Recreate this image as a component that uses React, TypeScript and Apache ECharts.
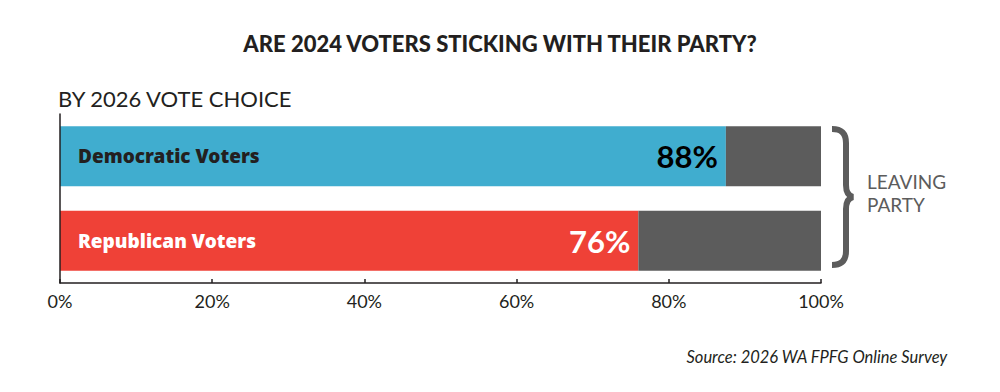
import React, { useEffect, useRef } from "react";
import * as echarts from "echarts";

const categories = ["Democratic Voters", "Republican Voters"];
const stickingValues = [87.5, 76];
const leavingValues = [12.5, 24];
const percentLabels = ["88%", "76%"];
const barColors = ["#40adcf", "#ef4137"];
const labelColors = ["#231f20", "#ffffff"];
const pctColors = ["#000000", "#ffffff"];
const xTicks = [0, 20, 40, 60, 80, 100];

const BRACE =
  "M0 0 C9 0 14 4 14 14 L14 56 C14 63 17 67 21 68 C17 69 14 73 14 80 L14 122 C14 132 9 136 0 136";

echarts.graphic.registerShape("brace", (echarts.graphic as any).extendPath(BRACE, {}));

export default function App() {
  const ref = useRef<HTMLDivElement>(null);
  useEffect(() => {
    if (!ref.current) return;
    const chart = echarts.init(ref.current, undefined, { renderer: "svg" });
    const font = "Lato, 'Noto Sans', sans-serif";
    const heavy = "'Noto Sans', Lato, sans-serif";
    chart.setOption({
      animation: false,
      textStyle: { fontFamily: font },
      title: [
        {
          text: "ARE 2024 VOTERS STICKING WITH THEIR PARTY?",
          left: "center",
          top: 27,
          textStyle: { fontFamily: font, fontSize: 22, fontWeight: 900, color: "#231f20" },
        },
        {
          text: "BY 2026 VOTE CHOICE",
          left: 53,
          top: 82,
          textStyle: { fontFamily: font, fontSize: 22, fontWeight: 400, color: "#231f20" },
        },
      ],
      grid: { left: 60, right: 179, top: 114, bottom: 109, containLabel: false },
      xAxis: {
        type: "value",
        min: 0,
        max: 100,
        interval: 20,
        axisLine: { show: true, lineStyle: { color: "#231f20", width: 1.5 } },
        axisTick: { show: true, inside: true, length: 4, lineStyle: { color: "#231f20", width: 1.5 } },
        splitLine: { show: false },
        axisLabel: {
          formatter: (v: number) => (xTicks.includes(v) ? v + "%" : ""),
          color: "#231f20",
          fontSize: 18,
          margin: 9,
          fontFamily: font,
        },
      },
      yAxis: {
        type: "category",
        data: categories,
        inverse: true,
        z: 10,
        axisLine: { show: true, lineStyle: { color: "#231f20", width: 1.5 } },
        axisTick: { show: false },
        axisLabel: {
          inside: true,
          margin: 18,
          fontSize: 19,
          fontWeight: 900,
          fontFamily: heavy,
          color: (_v: any, i: number) => labelColors[i],
        },
      },
      series: [
        {
          name: "Sticking",
          type: "bar",
          stack: "total",
          barWidth: 60,
          data: stickingValues.map((v, i) => ({
            value: v,
            itemStyle: { color: barColors[i] },
            label: { color: pctColors[i] },
          })),
          label: {
            show: true,
            position: "insideRight",
            distance: 8,
            formatter: (p: any) => percentLabels[p.dataIndex],
            fontSize: 31,
            fontWeight: 700,
            fontFamily: font,
          },
        },
        {
          name: "Leaving",
          type: "bar",
          stack: "total",
          barWidth: 60,
          data: leavingValues,
          itemStyle: { color: "#5c5c5c" },
        },
      ],
      graphic: [
        {
          type: "brace",
          x: 832,
          y: 129,
          style: { fill: "none", stroke: "#5c5c5c", lineWidth: 6 },
        },
        {
          type: "text",
          x: 867,
          y: 170,
          style: {
            text: "LEAVING\nPARTY",
            font: `400 19px ${font}`,
            fill: "#5c5c5c",
            lineHeight: 23,
          },
        },
        {
          type: "text",
          right: 52,
          top: 348,
          style: {
            text: "Source: 2026 WA FPFG Online Survey",
            font: `italic 400 16.5px ${font}`,
            fill: "#231f20",
          },
        },
      ],
    });
    return () => chart.dispose();
  }, []);
  return <div ref={ref} style={{ width: 1000, height: 392, margin: -8 }} />;
}
